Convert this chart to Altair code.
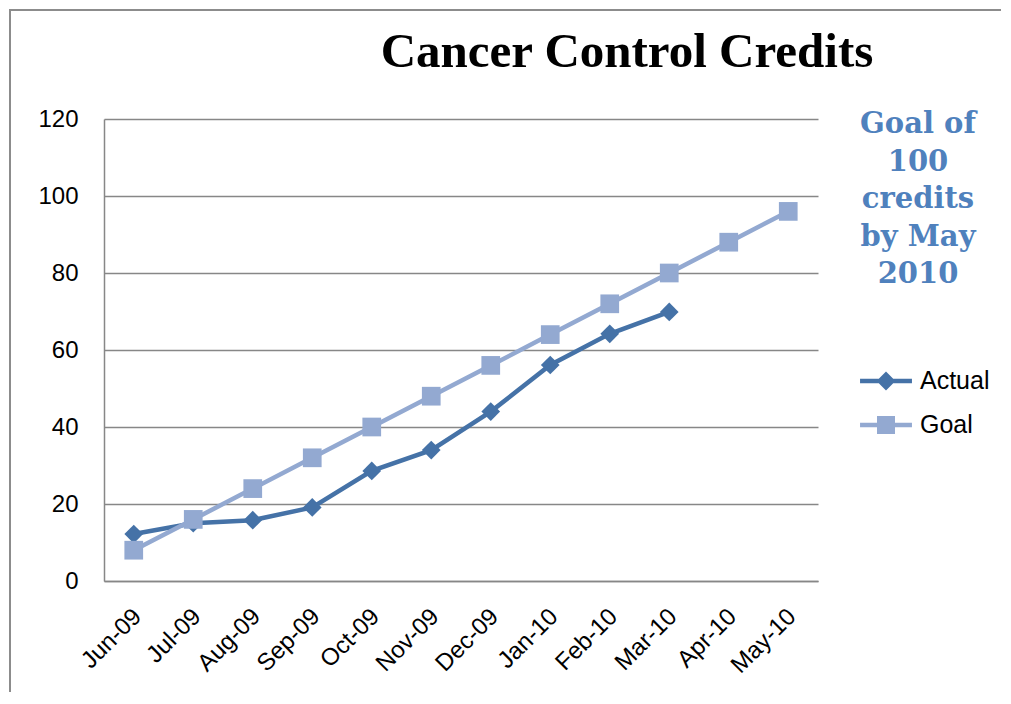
import altair as alt
import pandas as pd

months = ["Jun-09", "Jul-09", "Aug-09", "Sep-09", "Oct-09", "Nov-09",
          "Dec-09", "Jan-10", "Feb-10", "Mar-10", "Apr-10", "May-10"]
actual = [12.2, 15.0, 15.8, 19.1, 28.6, 34.0, 44.0, 56.1, 64.2, 69.9]
goal = [8, 16, 24, 32, 40, 48, 56, 64, 72, 80, 88, 96]
series_names = ["Actual", "Goal"]
series_colors = ["#4572A7", "#93A9D1"]
y_ticks = [0, 20, 40, 60, 80, 100, 120]
title_text = "Cancer Control Credits"
note_lines = ["Goal of", "100", "credits", "by May", "2010"]

rows = [{"month": m, "series": "Actual", "value": v} for m, v in zip(months, actual)]
rows += [{"month": m, "series": "Goal", "value": v} for m, v in zip(months, goal)]
df = pd.DataFrame(rows)
one = pd.DataFrame({"k": [0]})

W, H = 714, 462
GRAY = "#878787"
SANS = "Liberation Sans"

x = alt.X("month:O", sort=months, scale=alt.Scale(domain=months),
          axis=alt.Axis(title=None, labelAngle=-45, labelFontSize=24, labelFont=SANS,
                        labelColor="#000000", ticks=False, domainColor=GRAY,
                        domainWidth=1.5, labelPadding=23, labelOffset=-5, grid=False))
y = alt.Y("value:Q", scale=alt.Scale(domain=[0, 120], nice=False),
          axis=alt.Axis(title=None, values=y_ticks, labelFontSize=24, labelFont=SANS,
                        labelColor="#000000", ticks=False, grid=True, gridColor=GRAY,
                        gridWidth=1.5, gridOpacity=1, domainColor=GRAY, domainWidth=1.5,
                        labelPadding=26))

color_scale = alt.Scale(domain=series_names, range=series_colors)
color_plain = alt.Color("series:N", scale=color_scale, legend=None)
shape_plain = alt.Shape("series:N", scale=alt.Scale(domain=series_names, range=["diamond", "square"]),
                        legend=None)

# legend symbols: a short thick line with the series marker on it
path_actual = "M-1.73,-0.15H1.73V0.15H-1.73Z M0,-0.63L0.63,0L0,0.63L-0.63,0Z"
path_goal = "M-1.73,-0.15H1.73V0.15H-1.73Z M-0.6,-0.6H0.6V0.6H-0.6Z"
legend = alt.Legend(title=None, orient="none", legendX=767, legendY=247, padding=0,
                    symbolSize=900, symbolStrokeWidth=0, symbolOpacity=1,
                    labelFontSize=25, labelFont=SANS, labelColor="#000000",
                    labelOffset=19, rowPadding=16)
color_leg = alt.Color("series:N", scale=color_scale, legend=legend)
shape_leg = alt.Shape("series:N", scale=alt.Scale(domain=series_names, range=[path_actual, path_goal]),
                      legend=legend)

base = alt.Chart(df)
layers = []
for s in series_names:
    b = base.transform_filter(alt.datum.series == s)
    layers.append(b.mark_line(strokeWidth=4.5).encode(x=x, y=y, color=color_plain))
    layers.append(b.mark_point(filled=True, size=350, opacity=1).encode(
        x=x, y=y, color=color_plain, shape=shape_plain))

legend_layer = base.transform_filter(alt.datum.value < -1000).mark_point(
    filled=True, opacity=1).encode(x=x, y=y, color=color_leg, shape=shape_leg)

border = alt.Chart(one).mark_rect(fillOpacity=0, stroke="#8C8C8C", strokeWidth=2).encode(
    x=alt.value(-94), x2=alt.value(950), y=alt.value(-109), y2=alt.value(650))

title = alt.Chart(one).mark_text(
    text=title_text, font="Liberation Serif", fontSize=49, fontWeight="bold",
    align="center", baseline="alphabetic", color="#000000").encode(
    x=alt.value(523), y=alt.value(-52))

note = alt.Chart(one).mark_text(
    text=note_lines, lineHeight=37.5, font="DejaVu Serif", fontSize=29, fontWeight="bold",
    align="center", baseline="alphabetic", color="#4F81BD").encode(
    x=alt.value(814), y=alt.value(14))

chart = alt.layer(border, *layers, legend_layer, title, note).resolve_scale(
    color="independent", shape="independent"
).properties(
    width=W, height=H, autosize=alt.AutoSizeParams(type="none"),
    padding={"left": 96, "top": 111, "right": 183, "bottom": 111},
    background="white"
).configure_view(strokeWidth=0)

chart.save("out.html", embed_options={"renderer": "svg", "actions": False})
